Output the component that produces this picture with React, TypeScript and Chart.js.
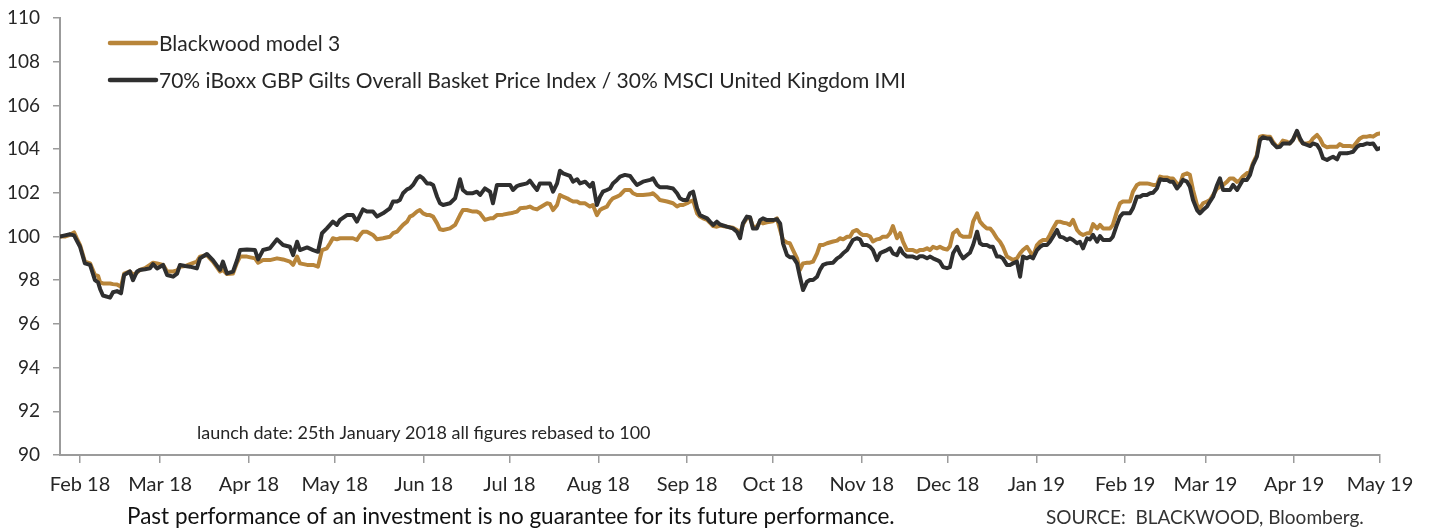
import React, { useEffect, useRef } from 'react';
import { Chart, registerables } from 'chart.js';

Chart.register(...registerables);

const FONT = 'Lato';
const TEXT_COLOR = '#262626';
const AXIS_COLOR = '#9b9b9b';
const MODEL_COLOR = '#B8853A';
const BENCH_COLOR = '#2F2F2F';

const launchDate = Date.UTC(2018, 0, 25);

const tickMonths: [number, number][] = [
  [2018, 1], [2018, 2], [2018, 3], [2018, 4], [2018, 5], [2018, 6], [2018, 7], [2018, 8],
  [2018, 9], [2018, 10], [2018, 11], [2019, 0], [2019, 1], [2019, 2], [2019, 3], [2019, 4],
];
const tickLabels = [
  'Feb 18', 'Mar 18', 'Apr 18', 'May 18', 'Jun 18', 'Jul 18', 'Aug 18', 'Sep 18',
  'Oct 18', 'Nov 18', 'Dec 18', 'Jan 19', 'Feb 19', 'Mar 19', 'Apr 19', 'May 19',
];

const seriesNames = [
  'Blackwood model 3',
  '70% iBoxx GBP Gilts Overall Basket Price Index / 30% MSCI United Kingdom IMI',
];

// days since launch (25 Jan 2018)
const dayOffsets = [
  0, 1.7, 3.5, 4.9, 5.9, 7.0, 8.7, 10.5, 12.2, 13.3, 14.0, 15.0, 17.5, 18.5, 19.9, 21.3,
  22.4, 24.4, 25.5, 26.9, 27.9, 29.7, 31.4, 32.5, 33.9, 36.0, 37.4, 39.5, 40.9, 41.9, 43.7, 45.4,
  47.8, 48.9, 51.3, 53.4, 55.9, 56.9, 58.3, 60.4, 61.8, 62.9, 65.3, 68.1, 69.2, 70.9, 73.3, 75.8,
  77.9, 80.3, 81.4, 82.8, 83.8, 86.3, 88.4, 90.1, 91.5, 93.2, 94.3, 95.3, 96.7, 97.8, 100.2, 102.3,
  103.7, 104.8, 105.8, 107.2, 109.3, 110.7, 112.8, 115.2, 116.3, 117.7, 118.7, 119.8, 121.2, 122.2, 123.3, 124.7,
  125.7, 126.8, 128.2, 129.2, 130.3, 131.7, 132.7, 133.8, 136.2, 138.0, 139.7, 140.7, 142.1, 144.2, 145.6, 146.7,
  148.4, 150.2, 151.2, 152.6, 154.7, 157.2, 158.2, 159.6, 160.7, 163.1, 164.1, 165.2, 166.6, 167.6, 170.1, 171.1,
  172.2, 173.6, 174.6, 175.7, 177.1, 178.1, 179.2, 180.6, 181.6, 183.4, 185.1, 186.1, 187.5, 188.6, 189.6, 191.0,
  192.1, 193.1, 194.5, 195.6, 197.3, 199.1, 200.1, 201.5, 203.6, 206.1, 207.1, 208.5, 209.5, 212.0, 214.1, 215.5,
  216.5, 217.6, 219.0, 220.0, 221.1, 222.5, 223.5, 224.6, 226.0, 227.0, 228.1, 229.4, 230.5, 232.9, 235.0, 236.4,
  237.5, 238.5, 239.9, 241.0, 242.0, 243.4, 244.5, 245.5, 246.9, 249.0, 250.4, 251.5, 252.5, 253.9, 254.9, 256.0,
  257.4, 258.4, 259.5, 260.9, 261.9, 263.0, 264.4, 265.4, 266.5, 267.9, 270.0, 271.4, 272.4, 273.5, 274.9, 275.9,
  276.9, 278.3, 279.4, 280.4, 281.8, 282.9, 283.9, 285.3, 286.4, 287.4, 288.8, 289.9, 290.9, 292.3, 293.4, 294.4,
  295.8, 296.9, 297.9, 299.3, 300.3, 301.4, 302.8, 303.8, 304.9, 306.3, 307.3, 308.4, 309.8, 310.8, 311.9, 313.3,
  314.3, 315.4, 316.8, 317.8, 318.9, 320.3, 321.3, 322.3, 323.7, 324.8, 325.8, 327.2, 328.3, 329.3, 330.7, 331.8,
  332.8, 334.2, 335.3, 336.3, 337.7, 338.8, 339.8, 341.2, 342.3, 343.3, 344.7, 345.7, 346.8, 348.2, 349.2, 350.3,
  351.7, 352.7, 353.8, 355.2, 356.2, 357.3, 358.7, 359.7, 360.8, 362.2, 363.2, 364.3, 365.7, 366.7, 367.7, 369.1,
  370.2, 371.2, 372.6, 373.7, 374.7, 376.1, 377.2, 378.2, 379.6, 380.7, 381.7, 383.1, 384.2, 385.2, 386.6, 387.6,
  388.7, 390.1, 391.1, 392.2, 393.6, 394.6, 395.7, 397.1, 398.1, 399.2, 400.6, 401.6, 402.7, 404.1, 405.1, 406.2,
  407.6, 408.6, 409.7, 411.1, 412.1, 413.1, 414.5, 415.6, 416.6, 418.0, 419.1, 420.1, 421.5, 422.6, 423.6, 425.0,
  426.1, 427.1, 428.5, 429.5, 430.6, 432.0, 433.1, 434.1, 435.5, 436.6, 437.6, 439.0, 440.0, 441.1, 442.5, 443.5,
  444.6, 446.0, 447.0, 448.1, 449.5, 450.5, 451.6, 453.0, 454.0, 455.1, 456.5, 457.5, 458.6, 460.0, 461.0,
];

const model3 = [
  100.0, 100.0, 100.08, 100.19, 99.9, 99.61, 98.85, 98.77, 98.24, 98.2, 97.9, 97.85, 97.85, 97.82, 97.8, 97.7,
  98.3, 98.4, 98.24, 98.35, 98.47, 98.55, 98.7, 98.8, 98.77, 98.7, 98.4, 98.4, 98.45, 98.62, 98.65, 98.74,
  98.85, 99.08, 99.15, 98.85, 98.4, 98.47, 98.28, 98.31, 98.8, 99.08, 99.08, 99.0, 98.8, 98.92, 98.92, 99.0,
  98.95, 98.85, 98.7, 99.08, 98.77, 98.7, 98.7, 98.62, 99.38, 99.46, 99.69, 99.92, 99.87, 99.92, 99.92, 99.92,
  99.84, 100.07, 100.22, 100.22, 100.07, 99.87, 99.92, 99.99, 100.15, 100.22, 100.37, 100.53, 100.68, 100.91, 100.98, 101.14,
  101.21, 101.06, 100.98, 100.98, 100.91, 100.6, 100.33, 100.3, 100.37, 100.53, 100.98, 101.21, 101.21, 101.14, 101.14, 101.06,
  100.76, 100.83, 100.83, 100.98, 101.0, 101.06, 101.09, 101.14, 101.29, 101.33, 101.37, 101.29, 101.24, 101.33, 101.52, 101.49,
  101.21, 101.44, 101.9, 101.82, 101.75, 101.67, 101.6, 101.6, 101.52, 101.52, 101.37, 101.44, 100.98, 101.21, 101.29, 101.37,
  101.6, 101.75, 101.82, 101.9, 102.13, 102.13, 101.98, 101.9, 101.9, 101.93, 101.98, 101.82, 101.67, 101.6, 101.52, 101.37,
  101.44, 101.44, 101.52, 101.6, 101.65, 101.06, 100.91, 100.83, 100.76, 100.63, 100.48, 100.45, 100.5, 100.45, 100.4, 100.3,
  100.1, 100.55, 100.85, 100.85, 100.45, 100.45, 100.68, 100.6, 100.65, 100.7, 100.83, 100.3, 99.84, 99.72, 99.69, 99.38,
  99.0, 98.47, 98.77, 98.8, 98.8, 98.85, 99.23, 99.61, 99.61, 99.69, 99.77, 99.81, 99.92, 99.87, 99.99, 99.99,
  100.22, 100.3, 100.15, 100.07, 100.07, 100.0, 99.77, 99.87, 99.9, 99.99, 99.99, 100.15, 100.48, 99.92, 100.15, 99.77,
  99.38, 99.38, 99.38, 99.3, 99.38, 99.38, 99.46, 99.38, 99.53, 99.46, 99.53, 99.45, 99.4, 99.55, 100.15, 100.3,
  100.07, 99.99, 99.99, 99.99, 100.68, 101.06, 100.68, 100.53, 100.37, 100.37, 100.22, 99.92, 99.76, 99.53, 99.08, 99.0,
  98.93, 99.0, 99.23, 99.38, 99.53, 99.3, 99.08, 99.61, 99.76, 99.84, 99.84, 100.07, 100.37, 100.68, 100.68, 100.63,
  100.6, 100.53, 100.76, 100.3, 100.15, 100.07, 100.15, 100.15, 100.57, 100.37, 100.53, 100.37, 100.37, 100.37, 100.53, 101.14,
  101.52, 101.6, 101.6, 101.6, 102.05, 102.36, 102.43, 102.43, 102.43, 102.4, 102.36, 102.36, 102.74, 102.7, 102.7, 102.66,
  102.66, 102.43, 102.36, 102.82, 102.89, 102.82, 102.13, 101.44, 101.29, 101.52, 101.6, 101.67, 101.9, 102.2, 102.28, 102.36,
  102.51, 102.66, 102.66, 102.5, 102.58, 102.74, 102.89, 102.97, 103.35, 103.73, 104.57, 104.6, 104.57, 104.57, 104.34, 104.11,
  104.19, 104.39, 104.34, 104.26, 104.42, 104.8, 104.42, 104.26, 104.26, 104.3, 104.49, 104.65, 104.49, 104.19, 104.08, 104.11,
  104.11, 104.11, 104.23, 104.14, 104.14, 104.14, 104.11, 104.34, 104.49, 104.57, 104.57, 104.6, 104.57, 104.69, 104.72,
];

const benchmark = [
  100.0, 100.05, 100.1, 100.05, 99.8, 99.53, 98.77, 98.7, 98.0, 97.9, 97.6, 97.3, 97.2, 97.45, 97.5, 97.4,
  98.24, 98.4, 98.0, 98.4, 98.47, 98.5, 98.54, 98.74, 98.54, 98.7, 98.24, 98.16, 98.3, 98.7, 98.65, 98.62,
  98.54, 99.0, 99.2, 98.92, 98.47, 98.85, 98.31, 98.39, 98.9, 99.38, 99.41, 99.38, 98.95, 99.38, 99.46, 99.87,
  99.61, 99.53, 99.15, 99.76, 99.38, 99.5, 99.38, 99.3, 100.15, 100.37, 100.53, 100.68, 100.53, 100.76, 100.98, 100.98,
  100.68, 100.98, 101.24, 101.14, 101.14, 100.91, 101.06, 101.29, 101.6, 101.6, 101.67, 101.98, 102.16, 102.21, 102.36, 102.66,
  102.77, 102.66, 102.43, 102.43, 102.36, 101.82, 101.52, 101.44, 101.52, 101.75, 102.62, 102.13, 101.98, 101.98, 102.05, 101.9,
  102.2, 102.05, 101.52, 102.36, 102.36, 102.36, 102.13, 102.31, 102.36, 102.43, 102.56, 102.36, 102.13, 102.43, 102.43, 102.43,
  102.05, 102.43, 103.01, 102.89, 102.82, 102.77, 102.51, 102.62, 102.43, 102.51, 102.28, 102.46, 101.44, 101.82, 102.05, 102.13,
  102.2, 102.43, 102.59, 102.74, 102.82, 102.77, 102.59, 102.36, 102.51, 102.59, 102.66, 102.36, 102.25, 102.25, 102.2, 101.98,
  101.75, 101.67, 101.67, 101.98, 102.05, 101.29, 100.98, 100.91, 100.83, 100.68, 100.53, 100.68, 100.55, 100.45, 100.37, 100.22,
  99.92, 100.6, 100.91, 100.88, 100.37, 100.37, 100.75, 100.83, 100.75, 100.75, 100.79, 100.6, 99.69, 99.15, 99.05, 99.05,
  98.77, 98.16, 97.55, 97.93, 98.01, 98.01, 98.16, 98.47, 98.7, 98.77, 98.8, 99.0, 99.08, 99.23, 99.38, 99.61,
  99.84, 99.92, 99.87, 99.61, 99.61, 99.53, 99.38, 98.92, 99.23, 99.3, 99.38, 99.46, 99.23, 99.15, 99.46, 99.23,
  99.08, 99.08, 99.08, 99.0, 99.1, 99.1, 99.0, 99.08, 99.0, 98.92, 98.85, 98.6, 98.55, 98.6, 99.23, 99.53,
  99.23, 99.0, 99.15, 99.26, 99.61, 100.22, 99.69, 99.61, 99.61, 99.53, 99.53, 99.08, 99.08, 99.0, 98.7, 98.7,
  98.77, 98.85, 98.16, 99.08, 99.0, 99.08, 99.0, 99.38, 99.53, 99.61, 99.61, 99.76, 99.99, 100.3, 99.99, 99.96,
  99.84, 99.92, 99.84, 99.69, 99.76, 99.46, 99.92, 99.87, 100.07, 99.76, 100.02, 99.84, 99.84, 99.84, 99.99, 100.53,
  100.91, 101.06, 101.06, 101.06, 101.29, 101.82, 101.82, 101.9, 101.9, 101.98, 102.0, 102.2, 102.62, 102.59, 102.59, 102.51,
  102.51, 102.2, 102.36, 102.59, 102.51, 102.28, 101.67, 101.21, 101.06, 101.21, 101.37, 101.6, 101.82, 102.36, 102.66, 102.13,
  102.13, 102.13, 102.36, 102.13, 102.36, 102.59, 102.59, 102.82, 103.27, 103.65, 104.42, 104.54, 104.49, 104.49, 104.26, 104.08,
  104.11, 104.26, 104.26, 104.26, 104.42, 104.84, 104.49, 104.26, 104.19, 104.14, 104.26, 104.19, 103.99, 103.58, 103.5, 103.58,
  103.65, 103.53, 103.81, 103.81, 103.81, 103.84, 103.88, 104.11, 104.19, 104.19, 104.26, 104.23, 104.26, 103.99, 104.04,
];

const yMin = 90;
const yMax = 110;
const yStep = 2;

const noteText = 'launch date: 25th January 2018 all figures rebased to 100';
const disclaimerText = 'Past performance of an investment is no guarantee for its future performance.';
const sourceText = 'SOURCE:  BLACKWOOD, Bloomberg.';

const DAY_MS = 86400000;
const tickDays = tickMonths.map(([y, m]) => (Date.UTC(y, m, 1) - launchDate) / DAY_MS);

const overlayPlugin = {
  id: 'overlayTexts',
  afterDraw(chart: any) {
    const { ctx, chartArea } = chart;
    ctx.save();
    // legend
    const lx = chartArea.left + 48;
    const rows = [
      { color: MODEL_COLOR, text: seriesNames[0], y: chartArea.top + 25 },
      { color: BENCH_COLOR, text: seriesNames[1], y: chartArea.top + 62 },
    ];
    rows.forEach((r) => {
      ctx.strokeStyle = r.color;
      ctx.lineWidth = 4.5;
      ctx.lineCap = 'round';
      ctx.beginPath();
      ctx.moveTo(lx + 2, r.y);
      ctx.lineTo(lx + 48, r.y);
      ctx.stroke();
      ctx.fillStyle = TEXT_COLOR;
      ctx.font = `21px ${FONT}`;
      ctx.textBaseline = 'middle';
      ctx.textAlign = 'left';
      ctx.fillText(r.text, lx + 51, r.y + 1);
    });
    // note
    ctx.font = `18px ${FONT}`;
    ctx.fillStyle = TEXT_COLOR;
    ctx.textBaseline = 'middle';
    ctx.fillText(noteText, chartArea.left + 137, chartArea.bottom - 22);
    // footer
    ctx.font = `22.5px ${FONT}`;
    ctx.fillStyle = '#111';
    ctx.fillText(disclaimerText, 127, chart.height - 14);
    ctx.font = `19px ${FONT}`;
    ctx.fillStyle = '#333';
    ctx.fillText(sourceText, 1046, chart.height - 13);
    ctx.restore();
  },
};

export default function App() {
  const canvasRef = useRef<HTMLCanvasElement | null>(null);

  useEffect(() => {
    document.body.style.margin = '0';
    const canvas = canvasRef.current;
    if (!canvas) return;
    const chart = new Chart(canvas, {
      type: 'line',
      data: {
        datasets: [
          {
            label: seriesNames[0],
            data: dayOffsets.map((d, i) => ({ x: d, y: model3[i] })),
            borderColor: MODEL_COLOR,
            backgroundColor: MODEL_COLOR,
            borderWidth: 4,
            pointRadius: 0,
            tension: 0,
            borderJoinStyle: 'round',
            borderCapStyle: 'round',
            order: 1,
          },
          {
            label: seriesNames[1],
            data: dayOffsets.map((d, i) => ({ x: d, y: benchmark[i] })),
            borderColor: BENCH_COLOR,
            backgroundColor: BENCH_COLOR,
            borderWidth: 4,
            pointRadius: 0,
            tension: 0,
            borderJoinStyle: 'round',
            borderCapStyle: 'round',
            order: 0,
          },
        ],
      },
      options: {
        responsive: false,
        animation: false,
        events: [],
        layout: { padding: { top: 18, right: 52, bottom: 34, left: 0 } },
        plugins: { legend: { display: false }, tooltip: { enabled: false } },
        scales: {
          x: {
            type: 'linear',
            min: 0,
            max: tickDays[tickDays.length - 1],
            afterBuildTicks: (scale: any) => {
              scale.ticks = tickDays.map((v) => ({ value: v }));
            },
            afterFit: (scale: any) => {
              scale.height = 42;
              scale.paddingLeft = 0;
              scale.paddingRight = 0;
            },
            ticks: {
              autoSkip: false,
              maxRotation: 0,
              padding: 10,
              color: TEXT_COLOR,
              font: { family: FONT, size: 20 },
              callback: (_v: any, i: number) => tickLabels[i],
            },
            grid: {
              display: true,
              drawOnChartArea: false,
              drawTicks: true,
              tickLength: 8,
              color: AXIS_COLOR,
              lineWidth: 1.5,
            },
            border: { display: true, color: AXIS_COLOR, width: 2 },
          },
          y: {
            min: yMin,
            max: yMax,
            afterFit: (scale: any) => {
              scale.width = 60;
              scale.paddingTop = 0;
              scale.paddingBottom = 0;
            },
            ticks: {
              stepSize: yStep,
              padding: 13,
              color: TEXT_COLOR,
              font: { family: FONT, size: 19 },
            },
            grid: {
              display: true,
              drawOnChartArea: false,
              drawTicks: true,
              tickLength: 7,
              color: AXIS_COLOR,
              lineWidth: 1.5,
            },
            border: { display: true, color: AXIS_COLOR, width: 2 },
          },
        },
      },
      plugins: [overlayPlugin],
    });
    return () => chart.destroy();
  }, []);

  return (
    <div style={{ position: 'fixed', left: 0, top: 0, width: 1432, height: 531, background: '#fff' }}>
      <canvas ref={canvasRef} width={1432} height={531} />
    </div>
  );
}
